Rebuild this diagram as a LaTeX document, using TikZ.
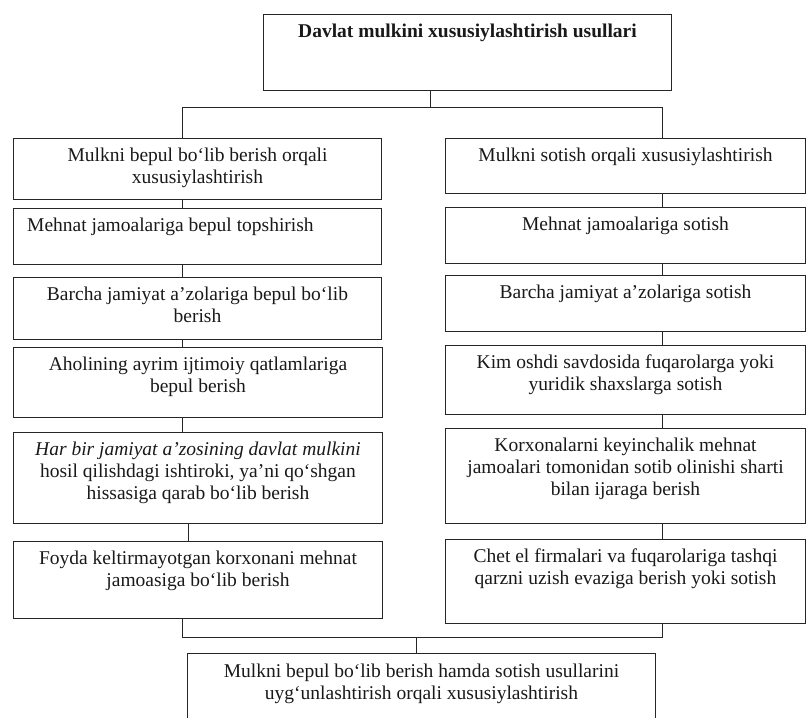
\documentclass[tikz,border=0pt]{standalone}
\usepackage{fontspec}
\setmainfont{Liberation Serif}
\usetikzlibrary{positioning}
\newcommand{\bodyfs}{\fontsize{19.5}{22}\selectfont}
\tikzset{
  box/.style={draw=black!85, line width=1pt, inner sep=0pt, anchor=north west},
  txt/.style={inner sep=0pt, align=center, font=\bodyfs, text=black!90},
  conn/.style={draw=black!85, line width=1pt},
}
\begin{document}
\begin{tikzpicture}[x=1pt,y=1pt]
\useasboundingbox (0,0) rectangle (807,-718);
\clip (0,0) rectangle (807,-718);
% title box
\node[box, minimum width=408pt, minimum height=76pt] (T) at (263,-14) {};
\node[txt, font=\bodyfs\bfseries, below=10pt of T.north] (Tt) {Davlat mulkini xususiylashtirish usullari};
% left column
\node[box, minimum width=368pt, minimum height=61pt] (L1) at (13,-138) {};
\node[box, minimum width=368pt, minimum height=56pt] (L2) at (13,-208) {};
\node[box, minimum width=368pt, minimum height=62pt] (L3) at (13,-277) {};
\node[box, minimum width=369pt, minimum height=70pt] (L4) at (13,-347) {};
\node[box, minimum width=369pt, minimum height=91pt] (L5) at (13,-432) {};
\node[box, minimum width=369pt, minimum height=77pt] (L6) at (13,-541) {};
\node[txt, below=10pt of L1.north] (L1t) {Mulkni bepul bo‘lib berish orqali\\xususiylashtirish};
\node[txt, anchor=north west] (L2t) at ([xshift=14pt,yshift=-10pt]L2.north west) {Mehnat jamoalariga bepul topshirish};
\node[txt, below=10pt of L3.north] (L3t) {Barcha jamiyat a’zolariga bepul bo‘lib\\berish};
\node[txt, below=10pt of L4.north] (L4t) {Aholining ayrim ijtimoiy qatlamlariga\\bepul berish};
\node[txt, below=10pt of L5.north] (L5t) {\itshape Har bir jamiyat a’zosining davlat mulkini\\hosil qilishdagi ishtiroki, ya’ni qo‘shgan\\hissasiga qarab bo‘lib berish};
\node[txt, below=10pt of L6.north] (L6t) {Foyda keltirmayotgan korxonani mehnat\\jamoasiga bo‘lib berish};
% right column
\node[box, minimum width=360pt, minimum height=55pt] (R1) at (445,-138) {};
\node[box, minimum width=360pt, minimum height=56pt] (R2) at (445,-207) {};
\node[box, minimum width=360pt, minimum height=56pt] (R3) at (445,-275) {};
\node[box, minimum width=360pt, minimum height=69pt] (R4) at (445,-345) {};
\node[box, minimum width=360pt, minimum height=95pt] (R5) at (445,-428) {};
\node[box, minimum width=360pt, minimum height=84pt] (R6) at (445,-539) {};
\node[txt, below=10pt of R1.north] (R1t) {Mulkni sotish orqali xususiylashtirish};
\node[txt, below=10pt of R2.north] (R2t) {Mehnat jamoalariga sotish};
\node[txt, below=10pt of R3.north] (R3t) {Barcha jamiyat a’zolariga sotish};
\node[txt, below=10pt of R4.north] (R4t) {Kim oshdi savdosida fuqarolarga yoki\\yuridik shaxslarga sotish};
\node[txt, below=10pt of R5.north] (R5t) {Korxonalarni keyinchalik mehnat\\jamoalari tomonidan sotib olinishi sharti\\bilan ijaraga berish};
\node[txt, below=10pt of R6.north] (R6t) {Chet el firmalari va fuqarolariga tashqi\\qarzni uzish evaziga berish yoki sotish};
% bottom box
\node[box, minimum width=468pt, minimum height=72pt] (B) at (187,-653) {};
\node[txt, below=11pt of B.north] (Bt) {Mulkni bepul bo‘lib berish hamda sotish usullarini\\uyg‘unlashtirish orqali xususiylashtirish};
% connector coordinates
\coordinate (lc) at (182,0);
\coordinate (lc2) at (188,0);
\coordinate (rc) at (662,0);
\coordinate (topbus) at (430,-107);
\coordinate (botbus) at (416,-637);
% top connectors
\draw[conn] (T.south -| topbus) -- (topbus);
\draw[conn] (L1.north -| lc) |- (topbus -| rc) -- (R1.north -| rc);
% left chain
\draw[conn] (L1.south -| lc) -- (L2.north -| lc);
\draw[conn] (L2.south -| lc) -- (L3.north -| lc);
\draw[conn] (L3.south -| lc) -- (L4.north -| lc);
\draw[conn] (L4.south -| lc) -- (L5.north -| lc);
\draw[conn] (L5.south -| lc2) -- (L6.north -| lc2);
% right chain
\draw[conn] (R1.south -| rc) -- (R2.north -| rc);
\draw[conn] (R2.south -| rc) -- (R3.north -| rc);
\draw[conn] (R3.south -| rc) -- (R4.north -| rc);
\draw[conn] (R4.south -| rc) -- (R5.north -| rc);
\draw[conn] (R5.south -| rc) -- (R6.north -| rc);
% bottom connectors
\draw[conn] (L6.south -| lc) |- (botbus -| rc) -- (R6.south -| rc);
\draw[conn] (botbus) -- (B.north -| botbus);
\end{tikzpicture}
\end{document}
